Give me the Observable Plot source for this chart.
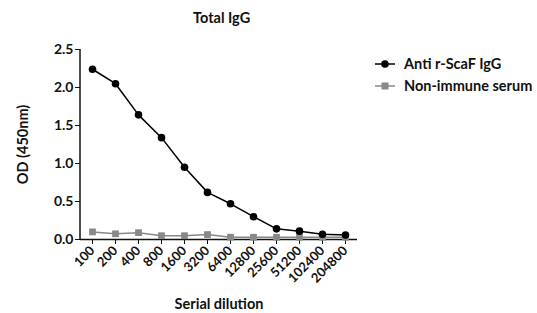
<!DOCTYPE html>
<html><head><meta charset="utf-8">
<script src="https://cdn.jsdelivr.net/npm/d3@7"></script>
<script src="https://cdn.jsdelivr.net/npm/@observablehq/plot@0.6"></script>
<style>
body{margin:0;background:#fff;font-family:Lato,"Open Sans",sans-serif;}
#wrap{position:relative;width:537px;height:313px;overflow:hidden;}
#wrap > svg{position:absolute;left:0;top:0;}
.t{position:absolute;font-weight:bold;font-size:14.5px;color:#111;white-space:nowrap;}
.leg{position:absolute;left:373px;font-weight:bold;font-size:14.5px;color:#111;display:flex;align-items:center;white-space:nowrap;}
</style></head>
<body><div id="wrap"></div>
<script>
const dilutions = ["100","200","400","800","1600","3200","6400","12800","25600","51200","102400","204800"];
const antiScaF = [2.24,2.05,1.64,1.34,0.95,0.62,0.47,0.30,0.14,0.11,0.07,0.06];
const nonImmune = [0.10,0.075,0.09,0.05,0.05,0.065,0.03,0.03,0.03,0.03,0.03,0.03];
const yTicks = [0,0.5,1.0,1.5,2.0,2.5];
const seriesNames = ["Anti r-ScaF IgG","Non-immune serum"];

const a = dilutions.map((d,i)=>({d, v: antiScaF[i]}));
const n = dilutions.map((d,i)=>({d, v: nonImmune[i]}));

const plot = Plot.plot({
  width: 537, height: 313,
  marginLeft: 80, marginRight: 180, marginTop: 49, marginBottom: 74,
  style: {fontFamily: "Lato, 'Open Sans', sans-serif", fontSize: "12px", fontWeight: "bold", color: "#111", overflow: "visible"},
  x: {type: "point", domain: dilutions, padding: 0.5},
  y: {domain: [0, 2.5]},
  marks: [
    Plot.axisY({ticks: yTicks, tickFormat: d3.format(".1f"), tickSize: 5, tickPadding: 2,
      fontSize: 14, label: null}),
    Plot.axisY({ticks: [], label: "OD (450nm)", labelAnchor: "center", labelOffset: 63, labelArrow: "none", fontSize: 14.5}),
    Plot.axisX({tickSize: 5, tickRotate: -45, tickPadding: 4, fontSize: 13, label: null}),
    Plot.axisX({ticks: [], label: "Serial dilution", labelAnchor: "center", labelOffset: 69, labelArrow: "none", fontSize: 14.5}),
    Plot.ruleY([0], {stroke: "#111", strokeWidth: 1.5}),
    Plot.line(n, {x: "d", y: "v", stroke: "#888", strokeWidth: 1.5}),
    Plot.dot(n, {x: "d", y: "v", symbol: "square", r: 3.8, fill: "#888", stroke: "none"}),
    Plot.line(a, {x: "d", y: "v", stroke: "#000", strokeWidth: 1.5}),
    Plot.dot(a, {x: "d", y: "v", r: 3.8, fill: "#000", stroke: "none"})
  ]
});
document.getElementById("wrap").appendChild(plot);
const ys = plot.scale("y");
d3.select(plot).append("line")
  .attr("x1", 80).attr("x2", 80)
  .attr("y1", ys.apply(2.5)).attr("y2", ys.apply(0))
  .attr("stroke", "#111").attr("stroke-width", 1.5);

const wrap = document.getElementById("wrap");
const title = document.createElement("div");
title.className = "t"; title.textContent = "Total IgG";
title.style.left = "193px"; title.style.top = "9px";
wrap.appendChild(title);

const items = [{c:"#000", sym:"circle"},{c:"#888", sym:"square"}];
seriesNames.forEach((name,i)=>{
  const div = document.createElement("div");
  div.className = "leg"; div.style.top = (55 + i*22) + "px";
  const sym = items[i].sym === "circle"
    ? `<circle cx="12" cy="7" r="3.8" fill="${items[i].c}"/>`
    : `<rect x="8.5" y="3.5" width="7" height="7" fill="${items[i].c}"/>`;
  div.innerHTML = `<svg width="24" height="14" style="margin-right:7px"><line x1="2" x2="22" y1="7" y2="7" stroke="${items[i].c}" stroke-width="1.5"/>${sym}</svg>${name}`;
  wrap.appendChild(div);
});
</script></body></html>
